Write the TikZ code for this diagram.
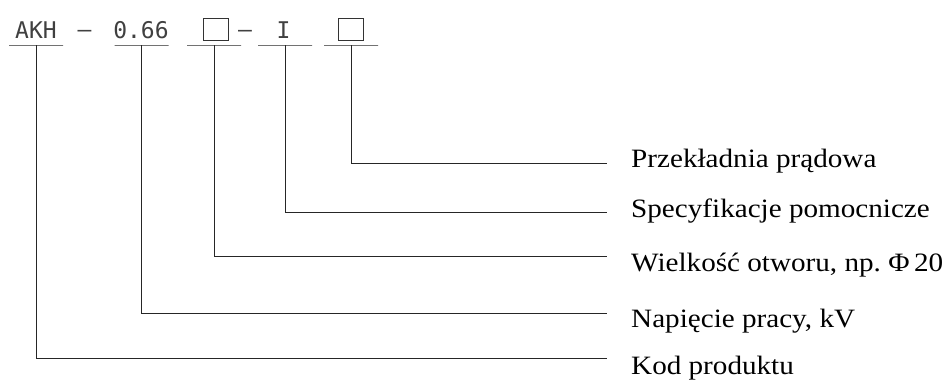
\documentclass[tikz,border=0pt]{standalone}
\usepackage{fontspec}
\setmainfont{Liberation Serif}
\newfontfamily\lblfont[FakeStretch=1.1]{Liberation Serif}
\newfontfamily\codefont[RawFeature=+zero]{DejaVu Sans Mono}
\usetikzlibrary{calc}

\tikzset{
  conn/.style={draw=black!85, line width=1pt},
  codetxt/.style={font=\codefont\fontsize{23}{26}\selectfont, text=black!75,
    anchor=base, inner sep=0pt},
  codebox/.style={draw=black!80, line width=0.9pt, minimum width=25pt,
    minimum height=22pt, inner sep=0pt},
  uline/.style={draw=black!85, line width=1pt, minimum width=54pt,
    minimum height=0pt, inner sep=0pt},
  lbl/.style={font=\lblfont\fontsize{26.5}{30}\selectfont, anchor=base west, inner sep=0pt}
}

\begin{document}
\begin{tikzpicture}[x=1pt, y=-1pt]
  \useasboundingbox (0,0) rectangle (947,381);

  % designation code
  \node[codetxt] (k1) at (36,38) {AKH};
  \node[codetxt] (d1) at (84.5,37) {–};
  \node[codetxt] (k2) at (141,38) {0.66};
  \node[codebox] (k3) at (215.5,29) {};
  \node[codetxt] (d2) at (245,37) {–};
  \node[codetxt] (k4) at (283.5,38) {I};
  \node[codebox] (k5) at (351,29) {};

  % underlines below each code position
  \node[uline] (u1) at (36,45) {};
  \node[uline] (u2) at (141.5,45) {};
  \node[uline] (u3) at (214,45) {};
  \node[uline] (u4) at (285,45) {};
  \node[uline] (u5) at (351,45) {};

  % explanations
  \node[lbl] (l5) at (631,167) {Przekładnia prądowa};
  \node[lbl] (l4) at (631,217) {Specyfikacje pomocnicze};
  \node[lbl] (l3) at (631,271) {Wielkość otworu, np.~Φ\,20};
  \node[lbl] (l2) at (631,327) {Napięcie pracy, kV};
  \node[lbl] (l1) at (631,374) {Kod produktu};

  % leader line ends
  \coordinate (e5) at (607,163);
  \coordinate (e4) at (607,212.5);
  \coordinate (e3) at (607,256);
  \coordinate (e2) at (607,313.5);
  \coordinate (e1) at (607,358);

  % leaders
  \draw[conn] (u5.center) |- (e5);
  \draw[conn] (u4.center) |- (e4);
  \draw[conn] (u3.center) |- (e3);
  \draw[conn] (u2.center) |- (e2);
  \draw[conn] (u1.center) |- (e1);
\end{tikzpicture}
\end{document}
